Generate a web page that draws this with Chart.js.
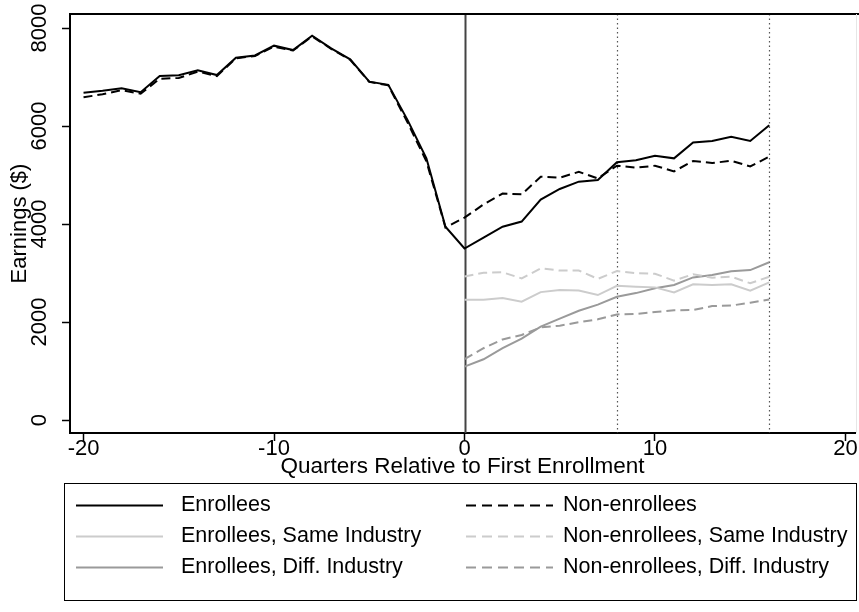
<!DOCTYPE html>
<html>
<head>
<meta charset="utf-8">
<script src="https://cdn.jsdelivr.net/npm/chart.js@4.4.0/dist/chart.umd.min.js"></script>
<style>
  html, body { margin: 0; padding: 0; background: #fff; }
</style>
</head>
<body>
<canvas id="chart" width="859" height="612"></canvas>
<script>
// ---------- Data ----------
const quarters = [-20, -19, -18, -17, -16, -15, -14, -13, -12, -11, -10, -9, -8, -7, -6, -5, -4, -3, -2, -1,
  0, 1, 2, 3, 4, 5, 6, 7, 8, 9, 10, 11, 12, 13, 14, 15, 16];
const postQuarters = [0, 1, 2, 3, 4, 5, 6, 7, 8, 9, 10, 11, 12, 13, 14, 15, 16];

const enrollees = [6680, 6720, 6770, 6690, 7020, 7035, 7135, 7040, 7395, 7440, 7640, 7550, 7845, 7585, 7360, 6905, 6840, 6130, 5340, 3945,
  3500, 3720, 3945, 4050, 4500, 4715, 4865, 4900, 5260, 5300, 5395, 5340, 5665, 5695, 5780, 5695, 6015];
const nonEnrollees = [6585, 6650, 6730, 6660, 6965, 6980, 7110, 7020, 7380, 7430, 7620, 7540, 7830, 7575, 7350, 6900, 6830, 6080, 5280, 3930,
  4130, 4400, 4620, 4605, 4965, 4945, 5065, 4930, 5190, 5150, 5190, 5075, 5285, 5245, 5290, 5175, 5375];

const enrolleesSame = [2455, 2455, 2490, 2415, 2610, 2655, 2645, 2550, 2740, 2720, 2707, 2605, 2770, 2755, 2770, 2640, 2810];
const nonEnrolleesSame = [2930, 3005, 3015, 2890, 3095, 3050, 3050, 2880, 3040, 2995, 2985, 2845, 2975, 2905, 2925, 2790, 2925];
const enrolleesDiff = [1090, 1240, 1465, 1660, 1905, 2070, 2230, 2355, 2515, 2590, 2690, 2755, 2910, 2960, 3035, 3060, 3220];
const nonEnrolleesDiff = [1245, 1465, 1645, 1735, 1890, 1925, 1995, 2055, 2155, 2165, 2205, 2240, 2245, 2325, 2335, 2395, 2460];

const xTicks = [-20, -10, 0, 10, 20];
const yTicks = [0, 2000, 4000, 6000, 8000];
const refLines = [0, 8, 16];

// ---------- Helpers ----------
const FONT = "'Liberation Sans', Arial, sans-serif";
const toPoints = (xs, ys) => xs.map((x, i) => ({ x: x, y: ys[i] }));

function series(label, xs, ys, color, dashed) {
  return {
    label: label,
    data: toPoints(xs, ys),
    borderColor: color,
    backgroundColor: color,
    borderWidth: 2,
    borderDash: dashed ? [9, 5] : [],
    pointRadius: 0,
    tension: 0,
    fill: false
  };
}

// ---------- Plugins ----------
// reference lines at enrollment quarter and follow-up quarters
const refLinePlugin = {
  id: 'refLines',
  beforeDatasetsDraw(chart) {
    const { ctx, chartArea, scales } = chart;
    ctx.save();
    refLines.forEach(q => {
      const x = Math.round(scales.x.getPixelForValue(q)) + 0.5;
      ctx.beginPath();
      if (q === 0) {
        ctx.strokeStyle = '#444';
        ctx.lineWidth = 2;
        ctx.setLineDash([]);
      } else {
        ctx.strokeStyle = '#555';
        ctx.lineWidth = 1.2;
        ctx.setLineDash([1.5, 3]);
      }
      ctx.moveTo(x, chartArea.top);
      ctx.lineTo(x, chartArea.bottom);
      ctx.stroke();
    });
    ctx.restore();
  }
};

// frame, rotated y tick labels and the boxed legend
const framePlugin = {
  id: 'frame',
  afterDraw(chart) {
    const { ctx, chartArea, scales } = chart;
    ctx.save();
    // top border
    ctx.strokeStyle = '#000';
    ctx.lineWidth = 2;
    ctx.beginPath();
    ctx.moveTo(chartArea.left, chartArea.top);
    ctx.lineTo(chart.width, chartArea.top);
    ctx.stroke();
    // faint right border
    ctx.strokeStyle = '#e6e6e6';
    ctx.lineWidth = 1;
    ctx.beginPath();
    ctx.moveTo(chartArea.right + 1.5, chartArea.top);
    ctx.lineTo(chartArea.right + 1.5, chartArea.bottom);
    ctx.stroke();

    // y tick labels, rotated like Stata
    ctx.fillStyle = '#000';
    ctx.font = '22px ' + FONT;
    ctx.textAlign = 'center';
    ctx.textBaseline = 'middle';
    scales.y.ticks.forEach(t => {
      const y = scales.y.getPixelForValue(t.value);
      ctx.save();
      ctx.translate(40, y);
      ctx.rotate(-Math.PI / 2);
      ctx.fillText(String(t.value), 0, 0);
      ctx.restore();
    });

    // legend box
    ctx.strokeStyle = '#000';
    ctx.lineWidth = 1;
    ctx.strokeRect(64.5, 483.5, 792, 117);
    ctx.font = '21.5px ' + FONT;
    const colLine = [76, 466];
    const colText = [181, 563];
    const rowY = [505, 536, 567];
    chart.data.datasets.forEach((ds, i) => {
      const col = i % 2;
      const row = Math.floor(i / 2);
      const y = rowY[row] + 0.5;
      ctx.strokeStyle = ds.borderColor;
      ctx.lineWidth = ds.borderWidth;
      ctx.setLineDash(ds.borderDash.length ? [10, 6] : []);
      ctx.beginPath();
      ctx.moveTo(colLine[col], y);
      ctx.lineTo(colLine[col] + 87, y);
      ctx.stroke();
      ctx.setLineDash([]);
      ctx.fillStyle = '#000';
      ctx.textAlign = 'left';
      ctx.textBaseline = 'middle';
      ctx.fillText(ds.label, colText[col], rowY[row]);
    });
    ctx.restore();
  }
};

// ---------- Chart ----------
const ctx = document.getElementById('chart');

new Chart(ctx, {
  type: 'line',
  data: {
    datasets: [
      series('Enrollees', quarters, enrollees, '#000000', false),
      series('Non-enrollees', quarters, nonEnrollees, '#000000', true),
      series('Enrollees, Same Industry', postQuarters, enrolleesSame, '#cccccc', false),
      series('Non-enrollees, Same Industry', postQuarters, nonEnrolleesSame, '#cccccc', true),
      series('Enrollees, Diff. Industry', postQuarters, enrolleesDiff, '#9a9a9a', false),
      series('Non-enrollees, Diff. Industry', postQuarters, nonEnrolleesDiff, '#9a9a9a', true)
    ]
  },
  plugins: [refLinePlugin, framePlugin],
  options: {
    responsive: false,
    animation: false,
    layout: {
      padding: { left: 0, right: 4, top: 14, bottom: 129 }
    },
    plugins: {
      legend: { display: false },
      tooltip: { enabled: false }
    },
    scales: {
      x: {
        type: 'linear',
        min: -20.71,
        max: 20.5,
        afterBuildTicks: s => { s.ticks = xTicks.map(v => ({ value: v })); },
        afterFit: s => { s.height = 50; },
        ticks: {
          color: '#000',
          font: { family: FONT, size: 22 },
          padding: -5,
          maxRotation: 0,
          autoSkip: false
        },
        grid: { drawOnChartArea: false, color: '#000', tickLength: 8, tickWidth: 1.5 },
        border: { color: '#000', width: 2 },
        title: {
          display: true,
          text: 'Quarters Relative to First Enrollment',
          color: '#000',
          font: { family: FONT, size: 22.5 },
          padding: { top: 0, bottom: 3 }
        }
      },
      y: {
        type: 'linear',
        min: -265,
        max: 8286,
        afterBuildTicks: s => { s.ticks = yTicks.map(v => ({ value: v })); },
        afterFit: s => { s.width = 70; },
        ticks: { display: false },
        grid: { drawOnChartArea: false, color: '#000', tickLength: 8, tickWidth: 1.5 },
        border: { color: '#000', width: 2 },
        title: {
          display: true,
          text: 'Earnings ($)',
          color: '#000',
          font: { family: FONT, size: 22 },
          padding: { top: 7, bottom: 0 }
        }
      }
    }
  }
});
</script>
</body>
</html>
